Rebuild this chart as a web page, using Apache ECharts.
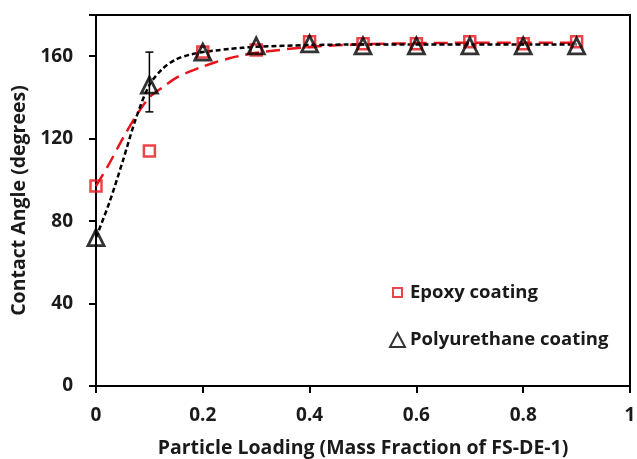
<!DOCTYPE html>
<html>
<head>
<meta charset="utf-8">
<script src="https://cdn.jsdelivr.net/npm/echarts@6/dist/echarts.min.js"></script>
<style>
  html, body { margin: 0; padding: 0; background: #fff; }
  #chart { width: 637px; height: 459px; }
</style>
</head>
<body>
<div id="chart"></div>
<script>
// 测量点
var loading = [0, 0.1, 0.2, 0.3, 0.4, 0.5, 0.6, 0.7, 0.8, 0.9];
var epoxy = [97, 114, 162, 163, 167, 166, 166, 167, 166, 167];
var polyurethane = [72, 146, 162, 165, 166, 165, 165, 165, 165, 165];
// 误差棒 [x, 下限, 上限]
var puError = [[0.1, 133, 162]];
// 拟合曲线
var fitX = [0, 0.025, 0.05, 0.075, 0.1, 0.125, 0.15, 0.175, 0.2, 0.225, 0.25, 0.275, 0.3, 0.4, 0.5, 0.6, 0.7, 0.8, 0.9];
var epoxyFit = [97, 108, 120, 131, 140, 145, 149.5, 152.5, 155, 157.2, 159, 160.5, 161.7, 164.5, 165.8, 166.3, 166.5, 166.5, 166.5];
var puFit = [72, 89, 109, 130, 146, 154, 158.5, 160.7, 162, 162.8, 163.5, 164.1, 164.6, 165.4, 165.7, 165.7, 165.7, 165.7, 165.7];
var xTicks = [0, 0.2, 0.4, 0.6, 0.8, 1];
var yTicks = [0, 40, 80, 120, 160];

function pairs(xs, ys) {
    var out = [];
    for (var i = 0; i < xs.length; i++) {
        out.push([xs[i], ys[i]]);
    }
    return out;
}

var font = "'Open Sans', 'Liberation Sans', sans-serif";
var myChart = echarts.init(document.getElementById('chart'));
var option = {
    animation: false,
    grid: {
        left: 96,
        right: 7,
        top: 15,
        bottom: 73,
        outerBoundsMode: 'none',
        containLabel: false,
        show: true,
        borderColor: '#000',
        borderWidth: 2
    },
    legend: {
        orient: 'vertical',
        left: 384,
        top: 278,
        itemGap: 27,
        itemWidth: 15,
        itemHeight: 14,
        textStyle: { fontFamily: font, fontSize: 18.5, fontWeight: 'bold', color: '#1a1a1a', lineHeight: 20 },
        data: [
            // 小方块图例，留出外边距
            { name: 'Epoxy coating', icon: 'path://M0,0M3,2L12,2L12,11L3,11ZM15,14', itemStyle: { color: '#fff', borderColor: '#e8141c', borderWidth: 2 } },
            { name: 'Polyurethane coating', icon: 'triangle', itemStyle: { color: '#fff', borderColor: '#000', borderWidth: 2 } }
        ]
    },
    xAxis: {
        type: 'value',
        min: 0,
        max: 1,
        interval: 0.2,
        name: 'Particle Loading (Mass Fraction of FS-DE-1)',
        nameLocation: 'middle',
        nameGap: 52,
        nameTextStyle: { fontFamily: font, fontSize: 19.5, fontWeight: 'bold', color: '#1a1a1a' },
        axisLine: { show: true, lineStyle: { color: '#000', width: 2 } },
        axisTick: { show: true, inside: false, length: 7, lineStyle: { color: '#000', width: 2 } },
        axisLabel: {
            fontFamily: font, fontSize: 19, fontWeight: 'bold', color: '#1a1a1a', margin: 20,
            formatter: function(v) {
                var hit = xTicks.filter(function(t) { return Math.abs(t - v) < 1e-6; });
                return hit.length ? String(hit[0]) : '';
            }
        },
        splitLine: { show: false }
    },
    yAxis: {
        type: 'value',
        min: 0,
        max: 180,
        interval: 40,
        name: 'Contact Angle (degrees)',
        nameLocation: 'middle',
        nameGap: 63,
        nameTextStyle: { fontFamily: font, fontSize: 19.5, fontWeight: 'bold', color: '#1a1a1a' },
        axisLine: { show: true, lineStyle: { color: '#000', width: 2 } },
        axisTick: { show: true, inside: false, length: 7, lineStyle: { color: '#000', width: 2 } },
        axisLabel: {
            fontFamily: font, fontSize: 19, fontWeight: 'bold', color: '#1a1a1a', margin: 23,
            formatter: function(v) { return yTicks.indexOf(v) >= 0 ? String(v) : ''; }
        },
        splitLine: { show: false }
    },
    series: [{
        name: 'epoxyFit',
        type: 'line',
        data: pairs(fitX, epoxyFit),
        smooth: 0.3,
        showSymbol: false,
        symbol: 'none',
        lineStyle: { color: '#e8141c', width: 2.5, type: [14, 7] },
        z: 2
    },{
        name: 'puFit',
        type: 'line',
        data: pairs(fitX, puFit),
        smooth: 0.3,
        showSymbol: false,
        symbol: 'none',
        lineStyle: { color: '#000', width: 2.5, type: [5, 3] },
        z: 3
    },{
        name: 'puError',
        type: 'custom',
        data: puError,
        renderItem: function(params, api) {
            var x = api.value(0);
            var lo = api.coord([x, api.value(1)]);
            var hi = api.coord([x, api.value(2)]);
            var w = 4;
            var style = { stroke: '#000', lineWidth: 1.5 };
            return {
                type: 'group',
                children: [
                    { type: 'line', shape: { x1: lo[0], y1: lo[1], x2: hi[0], y2: hi[1] }, style: style },
                    { type: 'line', shape: { x1: lo[0] - w, y1: lo[1], x2: lo[0] + w, y2: lo[1] }, style: style },
                    { type: 'line', shape: { x1: hi[0] - w, y1: hi[1], x2: hi[0] + w, y2: hi[1] }, style: style }
                ]
            };
        },
        z: 4
    },{
        name: 'Epoxy coating',
        type: 'scatter',
        data: pairs(loading, epoxy),
        symbol: 'rect',
        symbolSize: 11,
        itemStyle: { color: 'rgba(255,255,255,0)', borderColor: '#e8141c', borderWidth: 2.5 },
        z: 5
    },{
        name: 'Polyurethane coating',
        type: 'scatter',
        data: pairs(loading, polyurethane),
        symbol: 'triangle',
        symbolSize: 16,
        itemStyle: { color: 'rgba(255,255,255,0)', borderColor: '#000', borderWidth: 2.8 },
        z: 6
    }]
};
myChart.setOption(option);
</script>
</body>
</html>
